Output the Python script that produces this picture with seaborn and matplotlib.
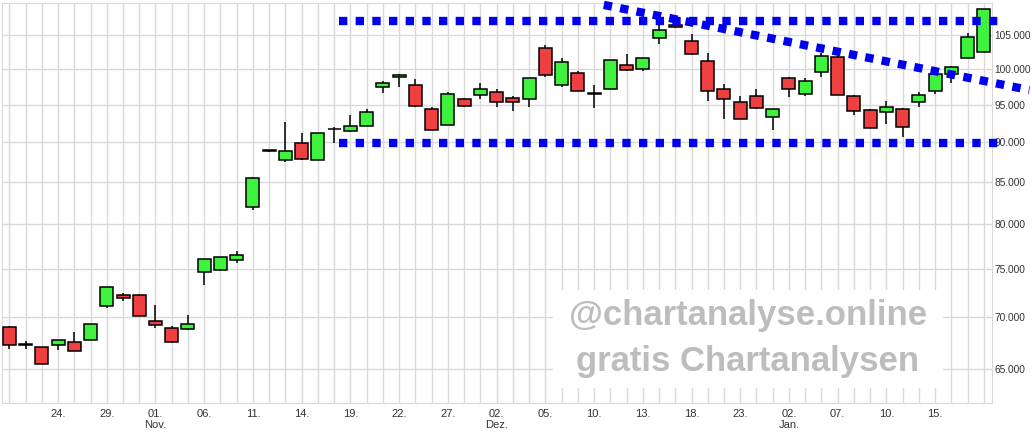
import numpy as np
import pandas as pd
import matplotlib
matplotlib.use("Agg")
import matplotlib.pyplot as plt
import seaborn as sns
from matplotlib.ticker import FixedLocator, FixedFormatter, NullLocator

opens  = [69.0,67.4,67.1,67.3,67.6,67.8,71.1,72.3,72.3,69.6,68.9,68.8,74.7,74.9,76.0,82.0,88.9,87.7,89.9,87.7,
          91.7,91.5,92.1,97.4,98.8,97.7,94.4,92.3,95.7,96.3,96.7,95.9,95.7,103.0,97.7,99.4,96.6,97.2,100.6,99.9,
          104.5,106.5,104.1,101.1,97.2,95.4,96.1,93.3,98.7,96.5,99.6,101.7,96.1,94.2,94.0,94.4,95.3,96.8,99.3,101.6,102.5]
highs  = [69.1,67.7,67.1,67.8,68.5,69.3,73.1,72.5,72.4,71.2,69.1,70.2,76.1,76.3,77.0,85.6,89.0,92.7,91.2,91.2,
          92.0,93.6,94.4,98.3,99.2,98.5,94.6,96.7,95.9,98.0,97.2,96.2,98.7,103.4,101.6,99.7,97.7,101.3,102.2,101.6,
          106.5,106.6,105.1,102.3,97.9,96.1,97.1,94.4,98.8,98.7,102.3,101.9,96.3,94.4,95.5,94.5,96.7,99.9,100.4,105.3,108.9]
lows   = [66.9,66.9,65.5,66.8,66.7,67.8,70.9,71.7,70.1,68.9,67.5,68.7,73.3,74.8,75.7,81.6,88.8,87.5,87.7,87.7,
          89.9,91.3,92.1,96.6,97.4,94.7,91.6,92.3,94.7,95.7,94.7,94.1,94.6,98.8,97.4,96.8,94.5,97.2,99.7,99.7,
          103.6,106.1,102.0,95.5,93.0,93.0,94.4,91.6,96.0,96.2,98.8,96.3,93.6,91.8,92.4,90.7,94.7,96.5,98.0,101.5,102.4]
closes = [67.3,67.3,65.5,67.8,66.7,69.3,73.1,72.0,70.1,69.2,67.6,69.3,76.1,76.3,76.6,85.5,88.9,88.9,87.8,91.2,
          91.7,92.1,94.0,98.0,99.1,94.8,91.6,96.4,94.8,97.2,95.3,95.4,98.7,99.1,101.0,96.8,96.5,101.3,99.8,101.6,
          105.7,106.2,102.1,96.9,95.7,93.0,94.5,94.4,97.1,98.2,101.8,96.3,94.1,91.8,94.7,92.0,96.3,99.3,100.3,104.6,108.9]

tick_idx    = [3,6,9,12,15,18,21,24,27,30,33,36,39,42,45,48,51,54,57]
tick_labels = ["24.","29.","01.","06.","11.","14.","19.","22.","27.","02.","05.","10.","13.","18.","23.","02.","07.","10.","15."]
month_idx    = [9,30,48]
month_labels = ["Nov.","Dez.","Jan."]
y_ticks = [65,70,75,80,85,90,95,100,105]

resist_level = 107.1
support_level = 89.9
trend_x = [36.6, 62.8]
trend_y = [109.6, 97.0]

df = pd.DataFrame({"open":opens,"high":highs,"low":lows,"close":closes})
df["idx"] = np.arange(len(df))

sns.set_style("white")
plt.rcParams['font.family'] = ['Liberation Sans', 'DejaVu Sans']
fig = plt.figure(figsize=(10.32,4.33), dpi=100)
ax = fig.add_axes([2/1032, 30/433, 990/1032, 400/433])

up = df["close"] >= df["open"]
colors = np.where(up, "#3ef23e", "#ee4040")
ax.vlines(df["idx"], df["low"], df["high"], color="black", lw=1.1, zorder=2)
bottom = np.minimum(df["open"], df["close"])
height = np.abs(df["close"]-df["open"])
height = np.where(height < 0.05, 0.08, height)
ax.bar(df["idx"], height, bottom=bottom, width=0.8, color=colors, edgecolor="black", lw=1.1, zorder=3)

ax.set_yscale("log")
ax.set_ylim(61.9, 109.9)
ax.set_xlim(-0.45, 60.5)

ax.set_xticks(range(len(df)), minor=True)
ax.set_xticks(tick_idx)
ax.set_xticklabels(tick_labels, fontsize=8, color="#333333")
ax.yaxis.set_major_locator(FixedLocator(y_ticks))
ax.yaxis.set_major_formatter(FixedFormatter([f"{v}.000" for v in y_ticks]))
ax.yaxis.set_minor_locator(NullLocator())
ax.yaxis.tick_right()
ax.tick_params(axis="y", labelsize=7.3, labelcolor="#333333", length=0, pad=1.5)
ax.tick_params(axis="x", which="both", length=2, color="#cccccc", pad=2)
ax.grid(True, which="both", axis="x", color="#d9d9d9", lw=1)
ax.grid(True, which="major", axis="y", color="#d9d9d9", lw=1)
ax.set_axisbelow(True)
for s in ax.spines.values():
    s.set_color("#d9d9d9")

for i, lab in zip(month_idx, month_labels):
    ax.text(i, -0.043, lab, transform=ax.get_xaxis_transform(), ha="center", va="top",
            fontsize=8, color="#333333")

ax.plot([20.3, 61.3], [resist_level]*2, color="#0000ee", lw=6, ls=(0,(1,1)), zorder=4, clip_on=False)
ax.plot([20.3, 61.0], [support_level]*2, color="#0000ee", lw=6, ls=(0,(1,1)), zorder=4, clip_on=False)
ax.plot(trend_x, trend_y, color="#0000ee", lw=6, ls=(0,(1,1)), zorder=4, clip_on=False)

fig.patches.append(plt.Rectangle((553/1032, 45/433), 390/1032, 98/433, transform=fig.transFigure,
                                 facecolor="white", edgecolor="none", zorder=5))
fig.text(748/1032, 117/433, "@chartanalyse.online", ha="center", va="center", fontsize=25,
         fontweight="bold", color="#bdbdbd", zorder=6)
fig.text(748/1032, 71/433, "gratis Chartanalysen", ha="center", va="center", fontsize=25,
         fontweight="bold", color="#bdbdbd", zorder=6)

fig.savefig("out.png", dpi=100)
